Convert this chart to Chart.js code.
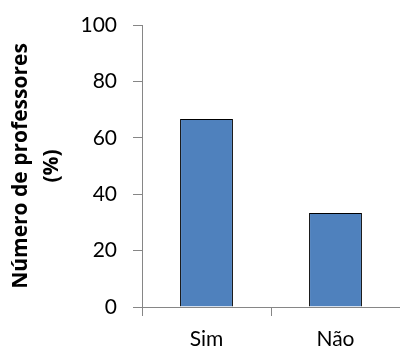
<!DOCTYPE html>
<html>
<head>
<meta charset="utf-8">
<script src="https://cdn.jsdelivr.net/npm/chart.js@4/dist/chart.umd.min.js"></script>
<style>
  html, body { margin: 0; padding: 0; background: #fff; }
  #wrap { width: 400px; height: 350px; }
</style>
</head>
<body>
<div id="wrap"><canvas id="grafico"></canvas></div>
<script>
const categorias = ['Sim', 'Não'];
const valores = [66.7, 33.3];
const tituloY = ['Número de professores', '(%)'];

const corEixo = '#868686';
const fonte = 'Lato, "Open Sans", sans-serif';

const ctx = document.getElementById('grafico');

new Chart(ctx, {
  type: 'bar',
  data: {
    labels: categorias,
    datasets: [{
      data: valores,
      backgroundColor: '#4F81BD',
      borderColor: '#000000',
      borderWidth: 1,
      categoryPercentage: 1,
      barPercentage: 0.41
    }]
  },
  options: {
    responsive: true,
    maintainAspectRatio: false,
    animation: false,
    layout: { padding: { top: 25, right: 0, left: 0, bottom: 0 } },
    plugins: {
      legend: { display: false },
      tooltip: { enabled: false }
    },
    scales: {
      x: {
        grid: {
          display: true,
          drawOnChartArea: false,
          drawTicks: true,
          tickLength: 9,
          color: corEixo,
          offset: true
        },
        border: { color: corEixo, width: 1 },
        ticks: {
          color: '#000',
          font: { family: fonte, size: 21 },
          padding: 11
        },
        afterFit: (scale) => { scale.height = 43; }
      },
      y: {
        min: 0,
        max: 100,
        ticks: {
          stepSize: 20,
          color: '#000',
          font: { family: fonte, size: 21 },
          padding: 16
        },
        grid: {
          display: true,
          drawOnChartArea: false,
          drawTicks: true,
          tickLength: 9,
          color: corEixo
        },
        border: { color: corEixo, width: 1 },
        title: {
          display: true,
          text: tituloY,
          color: '#000',
          font: { family: '"Open Sans", sans-serif', size: 21, weight: 'bold', lineHeight: 1.45 },
          padding: { top: 6, bottom: 0 }
        },
        afterFit: (scale) => {
          scale.width = 142;
          scale.paddingTop = 0;
          scale.paddingBottom = 0;
        }
      }
    }
  }
});
</script>
</body>
</html>
